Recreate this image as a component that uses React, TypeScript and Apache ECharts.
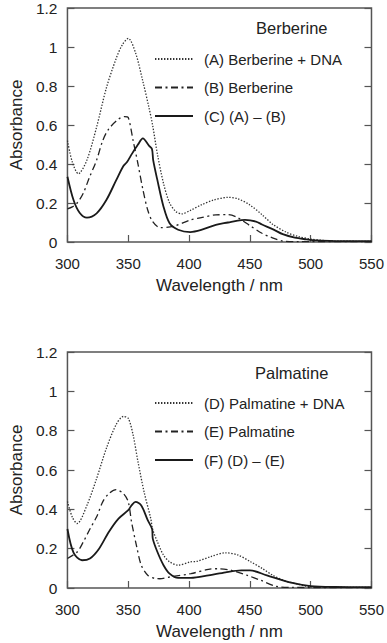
import React, { useEffect, useRef } from "react";
import * as echarts from "echarts";

// ---- Berberine panel ----
const wlBerDNA = [300, 304, 309, 316, 324, 332, 340, 345, 350, 356, 362, 367, 370, 374, 379, 384, 389, 394, 401, 410, 420, 432, 440, 450, 460, 469, 480, 490, 500, 510, 520, 550];
const absBerDNA = [0.52, 0.41, 0.35, 0.42, 0.59, 0.79, 0.94, 1.01, 1.044, 0.97, 0.824, 0.69, 0.6, 0.45, 0.3, 0.2, 0.157, 0.144, 0.162, 0.19, 0.215, 0.229, 0.222, 0.19, 0.14, 0.09, 0.05, 0.028, 0.015, 0.008, 0.005, 0.003];

const wlBer = [300, 304, 308, 313, 318, 324, 329, 334, 342, 347, 350, 354, 358, 362, 366, 370, 376, 387, 401, 410, 422, 432, 440, 451, 460, 467, 477, 490, 550];
const absBer = [0.17, 0.18, 0.2, 0.25, 0.33, 0.42, 0.52, 0.58, 0.63, 0.643, 0.638, 0.52, 0.4, 0.27, 0.164, 0.105, 0.074, 0.08, 0.113, 0.125, 0.139, 0.14, 0.125, 0.08, 0.045, 0.025, 0.005, 0.002, 0.002];

const wlBerDiff = [300, 305, 310, 316, 324, 332, 340, 346, 349, 353, 358, 362, 367, 369.5, 370.5, 374, 379, 384, 391, 401, 410, 422, 432, 440, 446, 455, 460, 470, 477, 487, 496, 505, 520, 550];
const absBerDiff = [0.335, 0.215, 0.15, 0.125, 0.147, 0.215, 0.316, 0.39, 0.41, 0.452, 0.5, 0.531, 0.494, 0.477, 0.42, 0.316, 0.181, 0.096, 0.063, 0.051, 0.062, 0.088, 0.1, 0.11, 0.113, 0.105, 0.09, 0.062, 0.04, 0.022, 0.014, 0.008, 0.005, 0.004];

// ---- Palmatine panel ----
const wlPalDNA = [300, 304, 308, 316, 324, 332, 340, 346, 350, 354, 358, 363, 368.5, 370, 374, 379, 384, 391, 401, 406, 418, 430, 440, 451, 460, 469, 478, 488, 500, 520, 550];
const absPalDNA = [0.44, 0.36, 0.328, 0.42, 0.557, 0.71, 0.83, 0.872, 0.863, 0.778, 0.642, 0.489, 0.353, 0.3, 0.234, 0.167, 0.133, 0.116, 0.133, 0.135, 0.16, 0.179, 0.168, 0.132, 0.1, 0.064, 0.038, 0.022, 0.006, 0.004, 0.003];

const wlPal = [300, 308, 313, 318.5, 324, 329, 334, 340, 346, 350, 352.7, 356.7, 360.7, 366, 372.5, 376, 384, 401.5, 416, 424, 435, 448, 459, 472, 485, 550];
const absPal = [0.15, 0.183, 0.234, 0.3, 0.362, 0.438, 0.48, 0.5, 0.48, 0.438, 0.336, 0.217, 0.116, 0.065, 0.048, 0.047, 0.056, 0.073, 0.095, 0.098, 0.09, 0.064, 0.039, 0.008, 0.003, 0.002];

const wlPalDiff = [300, 305, 312, 318.5, 326, 334, 342, 350, 352.7, 356, 360.7, 366, 369.6, 370.2, 374, 379, 384, 391, 401.5, 416, 430, 443, 450, 464, 482, 500, 520, 550];
const absPalDiff = [0.3, 0.18, 0.141, 0.15, 0.2, 0.285, 0.353, 0.396, 0.42, 0.438, 0.42, 0.345, 0.3, 0.25, 0.183, 0.116, 0.073, 0.051, 0.051, 0.064, 0.08, 0.09, 0.09, 0.064, 0.03, 0.01, 0.005, 0.004];

const namesTop = ["(A) Berberine + DNA", "(B) Berberine", "(C) (A) \u2013 (B)"];
const namesBottom = ["(D) Palmatine + DNA", "(E) Palmatine", "(F) (D) \u2013 (E)"];
const panelTitles = ["Berberine", "Palmatine"];
const xTicks = { min: 300, max: 550, interval: 50 };
const yTicks = { min: 0, max: 1.2, interval: 0.2 };

const pairs = (xs: number[], ys: number[]) => xs.map((x, i) => [x, ys[i]]);

const FONT = "'Liberation Sans', Arial, Helvetica, sans-serif";
const TXT = "#222";
const AX = "#555";

const dotted = { color: "#333", width: 1.3, type: [1.4, 1.6] };
const dashDot = { color: "#222", width: 1.3, type: [7, 3.5, 2, 3.5] };
const solid = { color: "#1a1a1a", width: 1.8, type: "solid" };

export default function App() {
  const ref = useRef<HTMLDivElement>(null);
  useEffect(() => {
    if (!ref.current) return;
    const chart = echarts.init(ref.current, undefined, { renderer: "svg" });

    const grids = [
      { left: 56, top: 6, width: 316, height: 236 },
      { left: 56, top: 352, width: 316, height: 236 },
    ];

    const xAxes = grids.map((_, gi) => ({
      type: "value",
      gridIndex: gi,
      min: xTicks.min,
      max: xTicks.max,
      interval: xTicks.interval,
      axisLine: { show: false },
      axisTick: { show: true, inside: true, length: 7, lineStyle: { color: AX, width: 1.2 } },
      splitLine: { show: false },
      axisLabel: { color: TXT, fontSize: 15, margin: 14, fontFamily: FONT },
      name: "Wavelength / nm",
      nameLocation: "middle",
      nameGap: 35,
      nameTextStyle: { color: TXT, fontSize: 17, fontFamily: FONT },
    }));

    const yAxes: any[] = [];
    grids.forEach((_, gi) => {
      yAxes.push({
        type: "value",
        gridIndex: gi,
        position: "left",
        min: yTicks.min,
        max: yTicks.max,
        interval: yTicks.interval,
        axisLine: { show: false },
        axisTick: { show: true, inside: true, length: 7, lineStyle: { color: AX, width: 1.2 } },
        splitLine: { show: false },
        axisLabel: { color: TXT, fontSize: 15.5, margin: 10, fontFamily: FONT },
        name: "Absorbance",
        nameLocation: "middle",
        nameGap: 38,
        nameTextStyle: { color: TXT, fontSize: 17, fontFamily: FONT },
      });
      yAxes.push({
        type: "value",
        gridIndex: gi,
        position: "right",
        min: yTicks.min,
        max: yTicks.max,
        interval: yTicks.interval,
        axisLine: { show: false },
        axisTick: { show: true, inside: true, length: 7, lineStyle: { color: AX, width: 1.2 } },
        splitLine: { show: false },
        axisLabel: { show: false },
      });
    });

    const mk = (name: string, gi: number, data: number[][], lineStyle: any) => ({
      name,
      type: "line",
      xAxisIndex: gi,
      yAxisIndex: gi * 2,
      data,
      symbol: "none",
      showSymbol: false,
      smooth: 0.3,
      lineStyle,
      itemStyle: { color: lineStyle.color },
    });

    const legendBase = {
      orient: "vertical",
      left: 154,
      padding: 0,
      itemWidth: 38,
      itemHeight: 18,
      itemGap: 10.5,
      selectedMode: false,
      itemStyle: { opacity: 0, borderWidth: 0 },
      textStyle: { color: TXT, fontSize: 15, lineHeight: 18, fontFamily: FONT, padding: [0, 0, 0, 6] },
    };

    chart.setOption({
      animation: false,
      textStyle: { fontFamily: FONT },
      grid: grids.map((g) => ({ ...g, show: true, borderColor: AX, borderWidth: 1.5, backgroundColor: "transparent" })),
      xAxis: xAxes,
      yAxis: yAxes,
      title: [
        { text: panelTitles[0], left: 256, top: 19, padding: 0, textStyle: { color: TXT, fontSize: 16.5, fontWeight: "normal", fontFamily: FONT } },
        { text: panelTitles[1], left: 255, top: 364, padding: 0, textStyle: { color: TXT, fontSize: 16.5, fontWeight: "normal", fontFamily: FONT } },
      ],
      legend: [
        { ...legendBase, top: 50, data: namesTop },
        { ...legendBase, top: 394, data: namesBottom },
      ],
      series: [
        mk(namesTop[0], 0, pairs(wlBerDNA, absBerDNA), dotted),
        mk(namesTop[1], 0, pairs(wlBer, absBer), dashDot),
        mk(namesTop[2], 0, pairs(wlBerDiff, absBerDiff), solid),
        mk(namesBottom[0], 1, pairs(wlPalDNA, absPalDNA), dotted),
        mk(namesBottom[1], 1, pairs(wlPal, absPal), dashDot),
        mk(namesBottom[2], 1, pairs(wlPalDiff, absPalDiff), solid),
      ],
    });
    return () => chart.dispose();
  }, []);
  return <div ref={ref} style={{ position: "absolute", left: 0, top: 0, width: 387, height: 643, background: "#fff" }} />;
}
